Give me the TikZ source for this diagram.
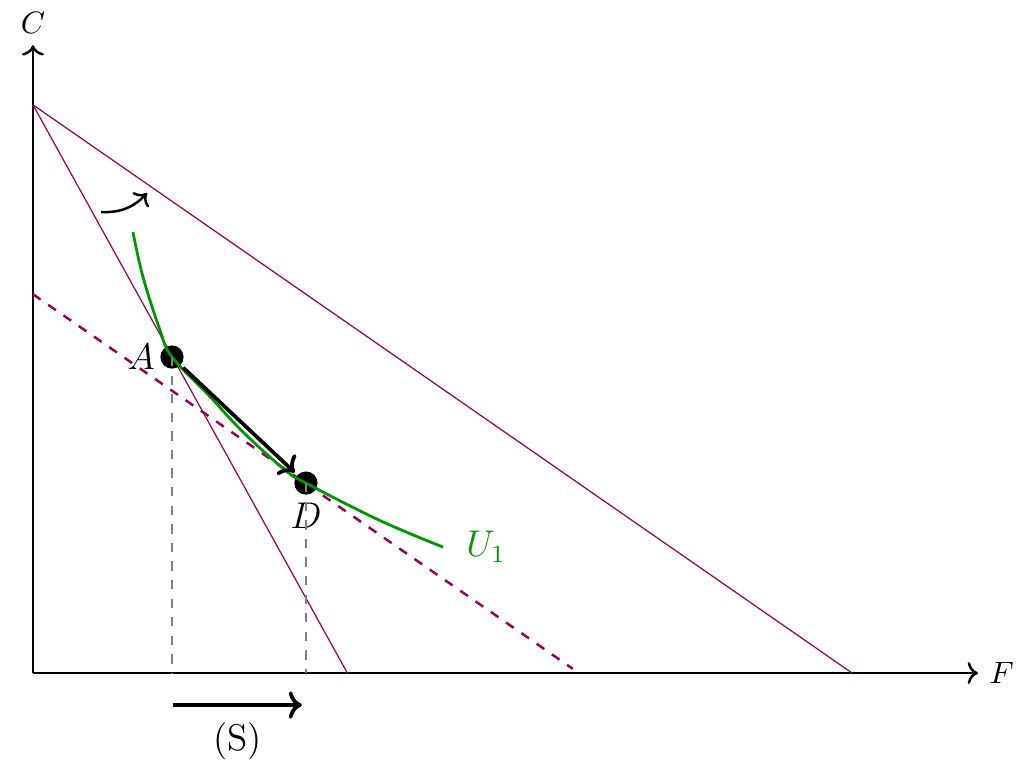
\documentclass[tikz,border=0pt]{standalone}
\usepackage{amsmath,amssymb}
\usepackage{xcolor}
\usetikzlibrary{arrows.meta, positioning, calc}

\definecolor{budget}{RGB}{155,0,85}
\definecolor{indiff}{RGB}{0,150,0}

\begin{document}
\begin{tikzpicture}[
    x=1.075cm, y=1.075cm,
    axis/.style    = {->, thick},
    bline/.style   = {budget},
    bdash/.style   = {budget, thick, dashed},
    ucurve/.style  = {indiff, line width=0.9pt},
    guide/.style   = {gray, dashed},
    pt/.style      = {circle, fill=black, inner sep=0pt, minimum size=7.5pt},
    lbl/.style     = {font=\large},
]
\useasboundingbox (-0.348,-0.929) rectangle (10.444,7.107);

% axes
\coordinate (O) at (0,0);
\coordinate (xend) at (9.98,0);
\coordinate (yend) at (0,6.63);
\draw[axis] (O) -- (xend) node[right] {$F$};
\draw[axis] (O) -- (yend) node[above] {$C$};

% budget lines
\coordinate (top) at (0,6);
\coordinate (flatF) at (8.65,0);
\coordinate (steepF) at (3.32,0);
\coordinate (dashC) at (0,4);
\coordinate (dashF) at (5.7,0.045);
\draw[bline] (top) -- (flatF);
\draw[bline] (top) -- (steepF);
\draw[bdash] (dashC) -- (dashF);

% rotation of the budget line
\coordinate (rotA) at (0.72,4.868);
\coordinate (rotB) at (1.204,5.069);
\draw[->, thick] (rotA) to[bend right=25] (rotB);

% indifference curve
\coordinate (uend) at (4.33,1.33);
\node[pt] (A) at (1.468,3.337) {};
\node[pt] (D) at (2.883,2.006) {};
\draw[ucurve] plot[smooth, tension=0.6] coordinates {
    (1.056,4.657) (1.162,4.182) (1.341,3.622) (1.468,3.337)
    (1.85,2.94) (2.218,2.545) (2.661,2.144) (2.883,2.006)
    (3.654,1.615) (4.33,1.33)};
\node[lbl, text=indiff, right=4pt of uend] (U) {$U_1$};
\node[lbl, left=-2pt of A] (Alab) {$A$};
\node[lbl, below=-1pt of D] (Dlab) {$D$};

% substitution effect
\draw[->, very thick, shorten >=5pt, shorten <=5pt] (A.center) -- (D.center);
\coordinate (Ax) at (A |- O);
\coordinate (Dx) at (D |- O);
\draw[guide] (A.center) -- (Ax);
\draw[guide] (D.center) -- (Dx);

\coordinate (sL) at (1.478,-0.338);
\coordinate (sR) at (2.84,-0.338);
\draw[->, very thick] (sL) -- (sR);
\node[lbl, below=2pt of $(sL)!0.5!(sR)$] (S) {(S)};

\end{tikzpicture}
\end{document}
